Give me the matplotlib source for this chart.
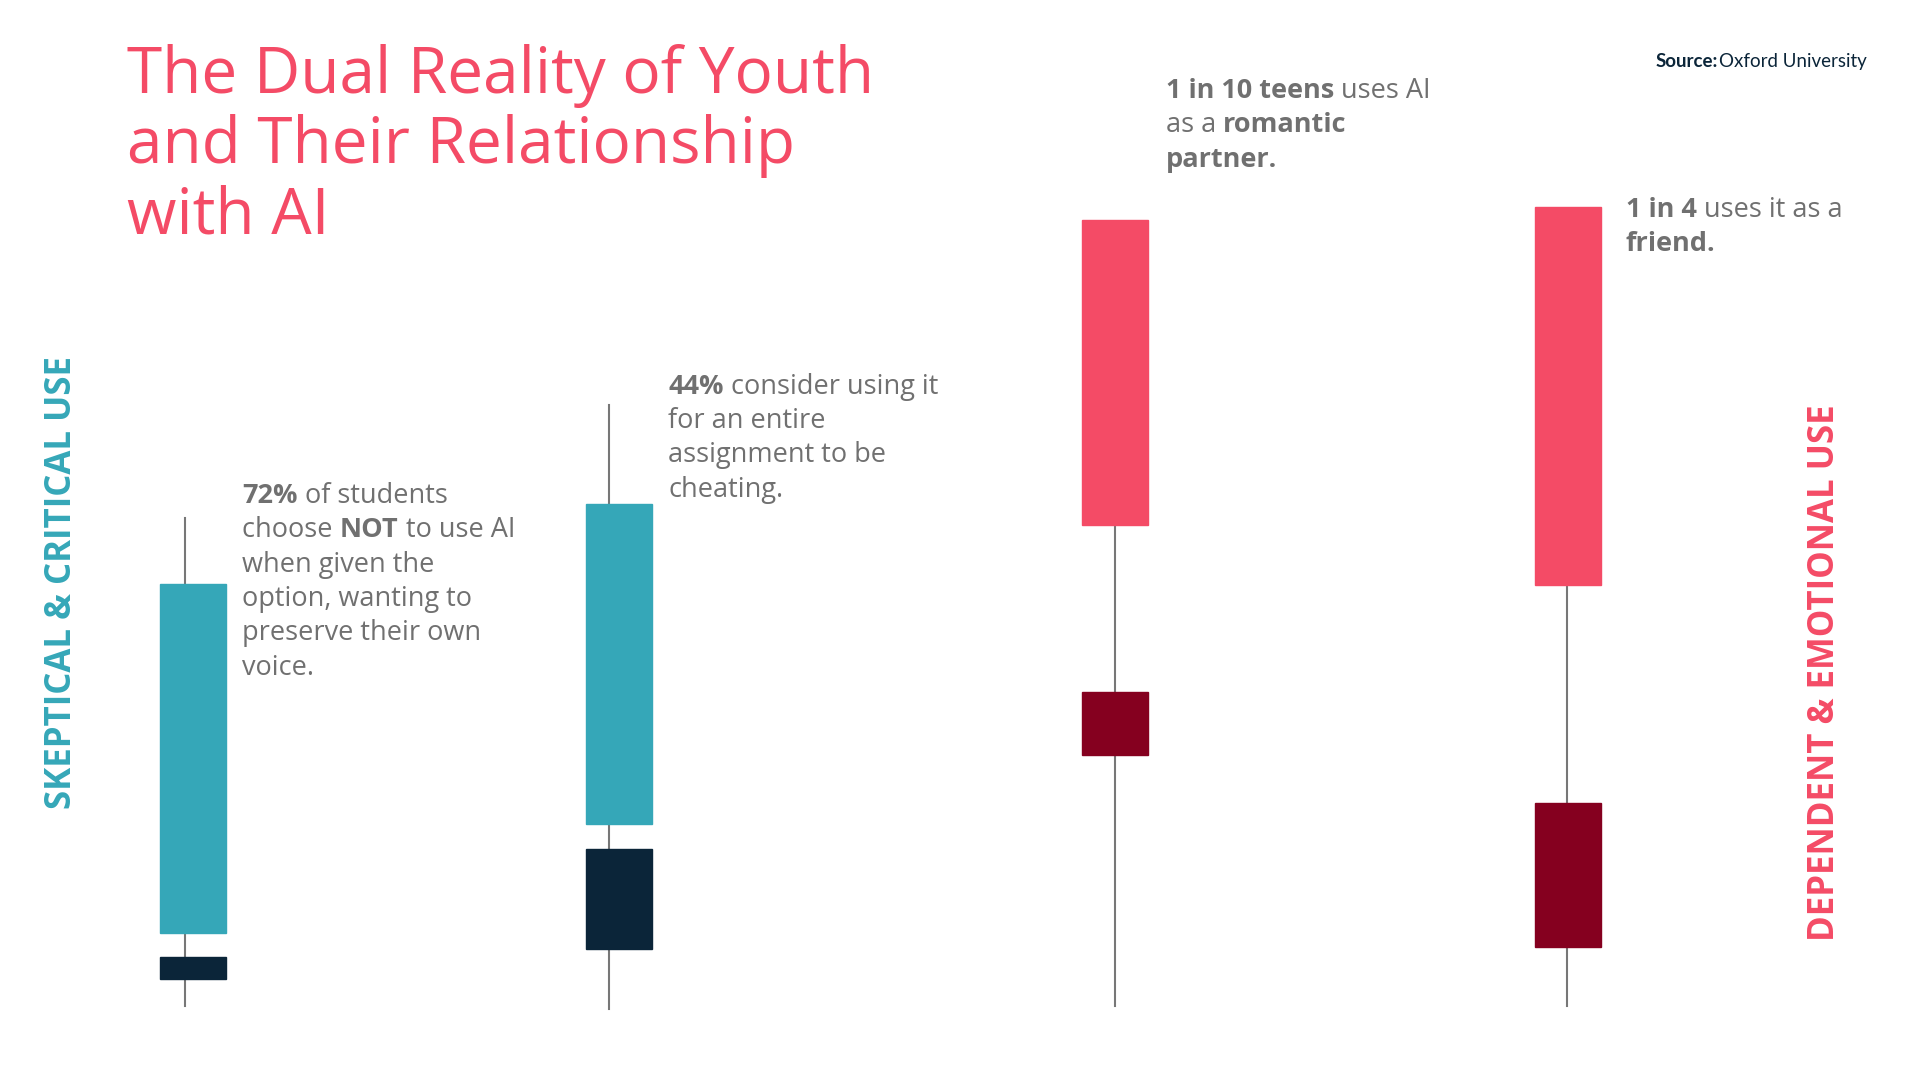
import matplotlib.pyplot as plt
from matplotlib.patches import Rectangle

# positions / values, in reference pixel units (1560 x 880 view)
centers = [157, 503, 906, 1274]
line_x = [150, 495, 906, 1273]
whisker_top = [422, 330, 428, 477]
whisker_bottom = [820, 822, 820, 820]
upper_top = [476, 411, 179, 169]
upper_bottom = [760, 671, 428, 477]
lower_top = [780, 692, 564, 654]
lower_bottom = [798, 773, 615, 772]
upper_colors = ["#35A7B8", "#35A7B8", "#F44B66", "#F44B66"]
lower_colors = ["#0B2539", "#0B2539", "#85001F", "#85001F"]

notes = [
    (197, 404, [[("72%", True), (" of students", False)],
                [("choose ", False), ("NOT", True), (" to use AI", False)],
                [("when given the", False)],
                [("option, wanting to", False)],
                [("preserve their own", False)],
                [("voice.", False)]]),
    (543, 315, [[("44%", True), (" consider using it", False)],
                [("for an entire", False)],
                [("assignment to be", False)],
                [("cheating.", False)]]),
    (947, 74, [[("1 in 10 teens", True), (" uses AI", False)],
               [("as a ", False), ("romantic", True)],
               [("partner.", True)]]),
    (1321, 171, [[("1 in 4", True), (" uses it as a", False)],
                 [("friend.", True)]]),
]

W, H = 1560, 880
fig = plt.figure(figsize=(19.2, 10.8), dpi=100)
ax = fig.add_axes([0, 0, 1, 1])
ax.set_xlim(0, W)
ax.set_ylim(H, 0)
ax.axis("off")
bw = 54
for i in range(4):
    ax.plot([line_x[i]] * 2, [whisker_top[i], whisker_bottom[i]], color="#777777", lw=1.5, zorder=1)
    ax.add_patch(Rectangle((centers[i] - bw / 2, upper_top[i]), bw, upper_bottom[i] - upper_top[i],
                           color=upper_colors[i], zorder=2))
    ax.add_patch(Rectangle((centers[i] - bw / 2, lower_top[i]), bw, lower_bottom[i] - lower_top[i],
                           color=lower_colors[i], zorder=2))

renderer = fig.canvas.get_renderer()
scale = 1920 / W
for x0, y0, lines in notes:
    for j, line in enumerate(lines):
        x = x0
        for txt, bold in line:
            t = ax.text(x, y0 + j * 28, txt, fontsize=19.5, family="Open Sans",
                        fontweight="bold" if bold else "normal", color="#707070", va="center")
            x += t.get_window_extent(renderer).width / scale

for k, line in enumerate(["The Dual Reality of Youth", "and Their Relationship", "with AI"]):
    ax.text(103, 62 + k * 57, line, fontsize=46, family="Open Sans", color="#F44B66", va="center")
ax.text(50, 475, "SKEPTICAL & CRITICAL USE", rotation=90, fontsize=25, fontweight="bold",
        family="Open Sans", color="#35A7B8", ha="center", va="center")
ax.text(1483, 548, "DEPENDENT & EMOTIONAL USE", rotation=90, fontsize=25, fontweight="bold",
        family="Open Sans", color="#F44B66", ha="center", va="center")
t = ax.text(1517, 50, "Oxford University", fontsize=13.5, family="Lato", color="#0B2539",
            ha="right", va="center")
w = t.get_window_extent(renderer).width / scale
ax.text(1517 - w - 1, 50, "Source:", fontsize=13.5, family="Lato", fontweight="bold",
        color="#0B2539", ha="right", va="center")

fig.savefig("out.png", dpi=100, facecolor="white")
